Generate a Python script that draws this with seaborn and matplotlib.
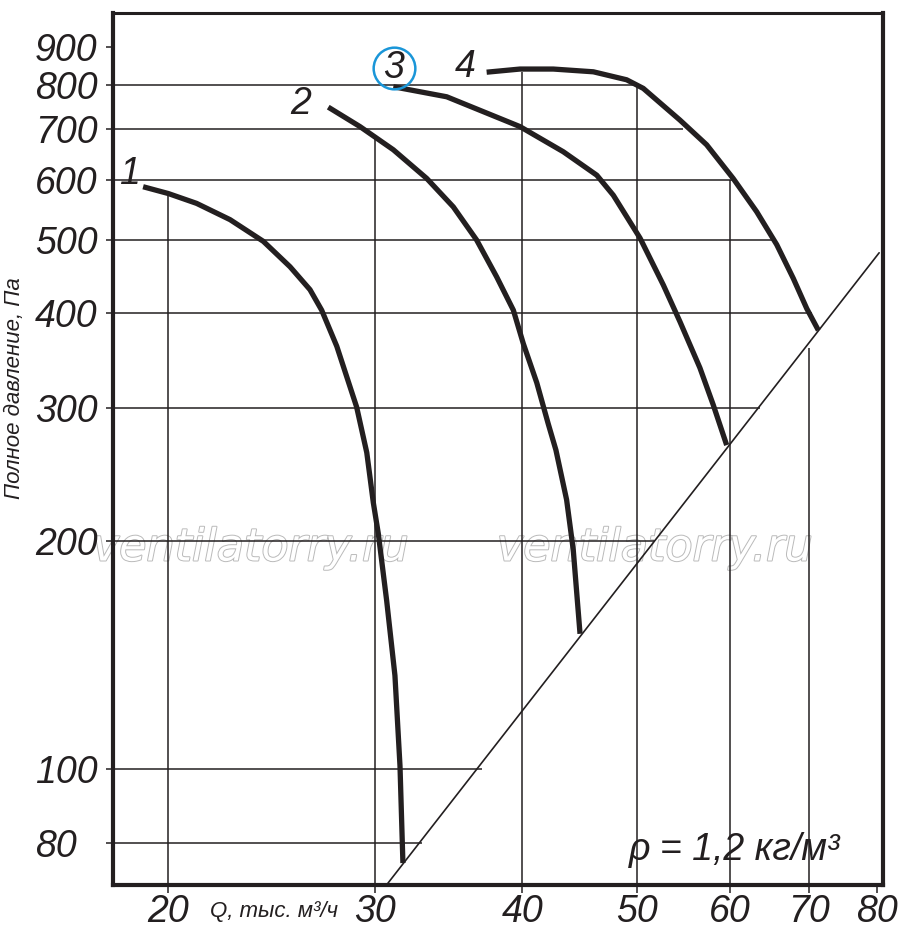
import numpy as np
import pandas as pd
import seaborn as sns
import matplotlib.pyplot as plt
from matplotlib import patheffects as pe
from matplotlib.ticker import FixedLocator, FixedFormatter, NullLocator

# fan curves, Q (thousand m3/h) vs total pressure (Pa)
curve1_q = [19.06, 20.02, 21.16, 22.59, 24.11, 25.40, 26.41, 27.02, 27.83, 28.56, 28.93,
            29.51, 29.89, 30.18, 30.68, 31.18, 31.49, 31.67]
curve1_p = [588, 576, 559, 532, 498, 461, 430, 404, 362, 320, 301,
            262, 225, 205, 167, 133, 101, 75.2]

curve2_q = [27.37, 29.12, 31.08, 33.18, 34.95, 36.58, 38.04, 39.30, 40.07, 41.14, 42.07,
            42.71, 43.61, 44.18, 44.77]
curve2_p = [749, 706, 658, 603, 553, 500, 447, 404, 365, 324, 286,
            264, 227, 195, 151]

curve3_q = [31.08, 34.50, 39.81, 43.33, 46.26, 47.78, 50.34, 52.69, 54.43, 56.59, 58.08, 59.63]
curve3_p = [797, 773, 706, 654, 609, 573, 503, 436, 390, 339, 303, 268]

curve4_q = [37.30, 39.81, 42.49, 45.95, 49.04, 50.66, 54.43, 57.34, 60.39, 63.23, 65.76,
            67.92, 69.73, 71.33]
curve4_p = [833, 841, 841, 834, 814, 793, 720, 668, 603, 545, 493,
            445, 406, 380]

curve_names = ["1", "2", "3", "4"]
label_q = [18.57, 25.95, 31.12, 35.76]
label_p = [611, 756, 844, 847]

# network (system) line
system_q = [30.66, 80.33]
system_p = [70.3, 481]

# axis ticks
x_ticks = [20, 30, 40, 50, 60, 70, 80]
y_ticks = [80, 100, 200, 300, 400, 500, 600, 700, 800, 900]

# partial grid: horizontal lines run to the envelope, vertical lines up to it
h_grid_p = [80, 100, 200, 300, 400, 500, 600, 700, 800]
h_grid_end_q = [32.87, 36.96, 51.83, 63.65, 70.46, 65.55, 60.39, 54.75, 50.05]
v_grid_q = [20, 30, 40, 50, 60, 70]
v_grid_top_p = [575, 685, 834, 797, 600, 360]

xlim = (17.96, 80.89)
ylim = (70.35, 998.2)

ink = "#231f20"

sns.set_style("white")
plt.rcParams['font.family'] = ['Liberation Sans', 'DejaVu Sans']

fig = plt.figure(figsize=(9, 9.39), dpi=100)
ax = fig.add_axes([0.12522, 0.05751, 0.85556, 0.92897])
ax.set_xscale('log')
ax.set_yscale('log')
ax.set_xlim(*xlim)
ax.set_ylim(*ylim)

ax.hlines(h_grid_p, xlim[0], h_grid_end_q, color=ink, lw=1.1, zorder=1)
ax.vlines(v_grid_q, ylim[0], v_grid_top_p, color=ink, lw=1.1, zorder=1)

sns.lineplot(x=system_q, y=system_p, ax=ax, color=ink, lw=1.2, zorder=2)

for q, p in [(curve1_q, curve1_p), (curve2_q, curve2_p), (curve3_q, curve3_p), (curve4_q, curve4_p)]:
    df = pd.DataFrame({'q': q, 'p': p})
    sns.lineplot(data=df, x='q', y='p', ax=ax, color=ink, lw=3.8, sort=False,
                 zorder=3, solid_capstyle='butt', solid_joinstyle='round')

for name, q, p in zip(curve_names, label_q, label_p):
    ax.text(q, p, name, fontsize=27, fontstyle='italic', color=ink,
            ha='center', va='center', zorder=4)
# highlighted curve number
ax.plot([label_q[2]], [label_p[2]], marker='o', ms=30, mfc='none', mec='#1a96d8',
        mew=1.8, zorder=4)

ax.text(60.6, 78.2, "ρ = 1,2 кг/м³", fontsize=27, fontstyle='italic', color=ink,
        ha='center', va='center', zorder=4)

# watermark
for wq in [23.53, 51.83]:
    ax.text(wq, 196, "ventilatorry.ru", fontsize=32, fontstyle='italic', family='DejaVu Sans',
            color='white', ha='center', va='center', zorder=0.5,
            path_effects=[pe.withStroke(linewidth=1.4, foreground='#bababa')])

ax.xaxis.set_major_locator(FixedLocator(x_ticks))
ax.xaxis.set_major_formatter(FixedFormatter([str(v) for v in x_ticks]))
ax.yaxis.set_major_locator(FixedLocator(y_ticks))
ax.yaxis.set_major_formatter(FixedFormatter([str(v) for v in y_ticks]))
ax.xaxis.set_minor_locator(NullLocator())
ax.yaxis.set_minor_locator(NullLocator())
ax.tick_params(axis='x', direction='out', length=5.8, width=1.1, color=ink, pad=1,
               labelsize=27, labelcolor=ink, bottom=True)
# y labels are left-aligned in the original
ax.tick_params(axis='y', direction='out', length=5, width=1.1, color=ink, pad=51,
               labelsize=27, labelcolor=ink, left=True)
for lab in ax.get_xticklabels() + ax.get_yticklabels():
    lab.set_fontstyle('italic')
for lab in ax.get_yticklabels():
    lab.set_horizontalalignment('left')

for side, s in ax.spines.items():
    s.set_visible(True)
    s.set_color(ink)
    s.set_linewidth(2.2 if side == 'top' else 3)

ax.set_xlabel('')
ax.set_ylabel('')
fig.text(274 / 900, 1 - 912 / 939, "Q, тыс. м³/ч", fontsize=16, fontstyle='italic',
         color=ink, ha='center', va='center')
fig.text(15 / 900, 1 - 388 / 939, "Полное давление, Па", fontsize=16, fontstyle='italic',
         color=ink, ha='center', va='center', rotation=90)

fig.savefig('out.png', dpi=100)
